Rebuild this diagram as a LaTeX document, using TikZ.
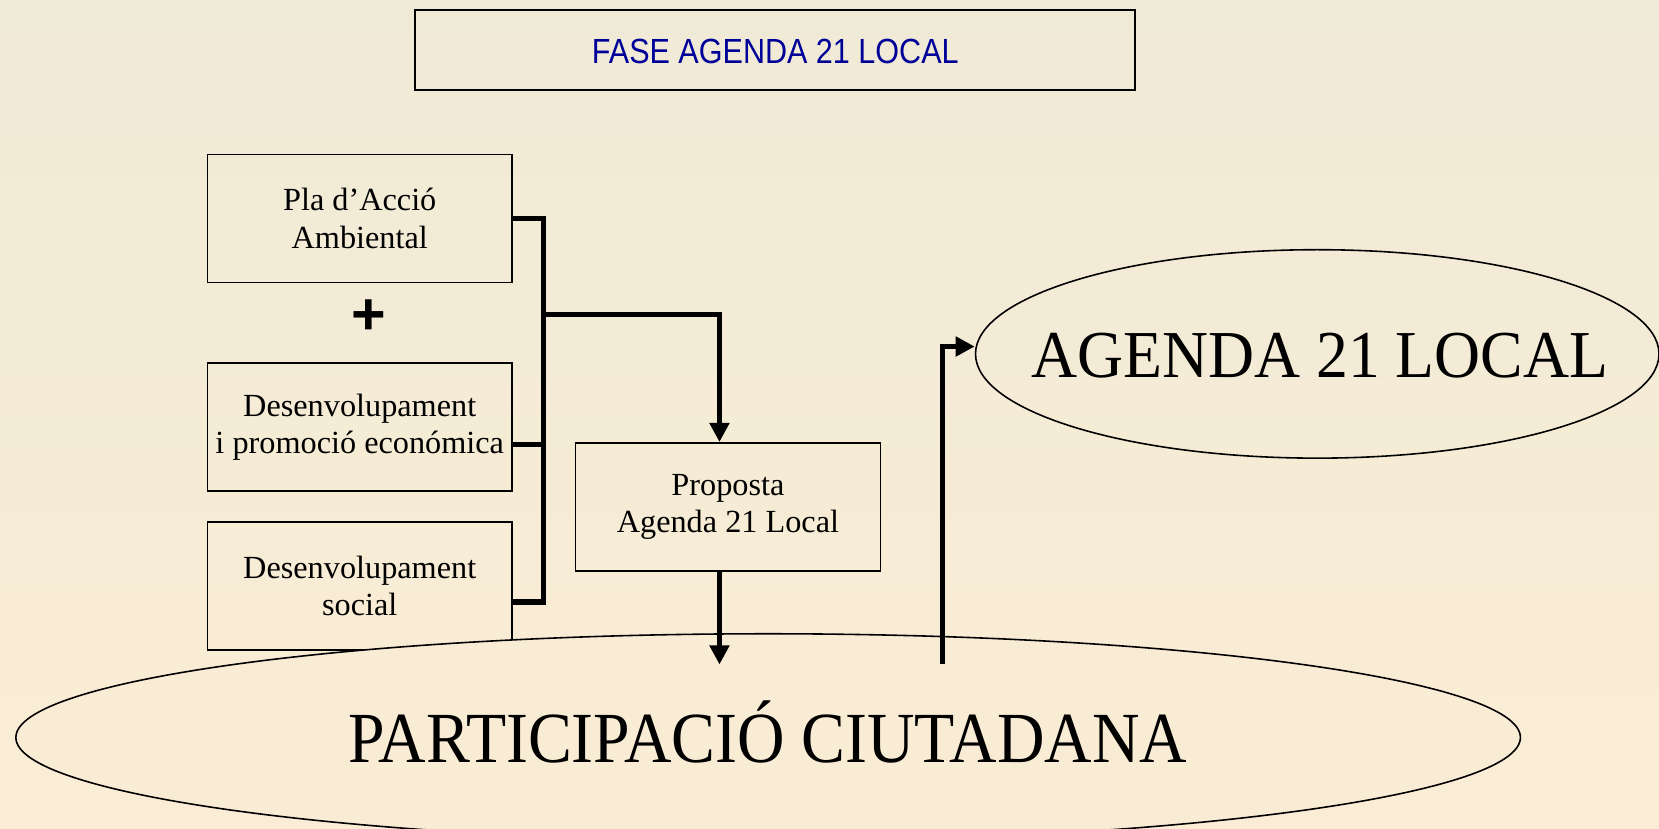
\documentclass[tikz,border=0pt]{standalone}
\usepackage{fontspec}
\setmainfont{Liberation Serif}
\newfontfamily\arialfont{Liberation Sans}
\usetikzlibrary{arrows.meta,shapes.geometric}
\definecolor{bgtop}{RGB}{239,234,214}
\definecolor{bgbot}{RGB}{251,237,213}
\definecolor{bgmid}{RGB}{249,236,213}
\definecolor{titleblue}{RGB}{0,0,153}
\begin{document}
\begin{tikzpicture}[x=0.5pt,y=-0.5pt,
  boxnode/.style={draw=black,line width=0.75pt,minimum width=144pt,minimum height=60.5pt,inner sep=0pt,align=center,font=\fontsize{15.25}{17.6}\selectfont},
  flow/.style={line width=2.4pt,line join=miter},
  flowarrow/.style={flow,-{Triangle[length=9pt,width=9pt]}},
  bigell/.style={ellipse,draw=black,line width=0.75pt,inner sep=0pt},
  bigtext/.style={inner sep=0pt,anchor=base}
  ]
\shade[top color=bgtop,bottom color=bgbot] (0,0) rectangle (1568,782.6);
\useasboundingbox (0,0) rectangle (1568,782.6);

% title
\node[draw=black,line width=1pt,inner sep=0pt,text height=25.25pt,text depth=12.5pt,
      minimum width=340.25pt,text=titleblue,font=\arialfont\fontsize{16.5}{16.5}\selectfont]
      (title) at (732.75,47.25) {\scalebox{0.875}[1]{FASE AGENDA 21 LOCAL}};

% boxes
\node[boxnode] (pla) at (340,206.5) {Pla d’Acció\\Ambiental};
\node[font=\arialfont\bfseries\fontsize{28}{28}\selectfont,inner sep=0pt] (plus) at (348.5,299.5) {+};
\node[boxnode] (des) at (340,403.5) {Desenvolupament\\i promoció económica};
\node[boxnode] (soc) at (340,554) {Desenvolupament\\social};
\node[boxnode] (prop) at (688,479) {Proposta\\Agenda 21 Local};

% ellipses
\node[bigell,fill=bgmid,minimum width=711pt,minimum height=98pt] (part) at (726,697) {};
\node[bigtext,font=\fontsize{34}{34}\selectfont] (parttext) at (725.5,721)
      {\scalebox{0.914}[1]{PARTICIPACIÓ CIUTADANA}};
\node[bigell,minimum width=323pt,minimum height=98.5pt] (agenda) at (1245,334.5) {};
\node[bigtext,font=\fontsize{31.7}{31.7}\selectfont] (agendatext) at (1247.5,357)
      {\scalebox{0.95}[1]{AGENDA 21 LOCAL}};

% connector coordinates
\coordinate (busTop) at (514,206.5);
\coordinate (busMid) at (514,420);
\coordinate (busBot) at (514,569);
\coordinate (busBr) at (514,297);
\coordinate (brTurn) at (680,297);
\coordinate (pdown) at (680,628);
\coordinate (lupB) at (891,628);
\coordinate (lupT) at (891,327.5);

\draw[flow] (pla.east) -- (busTop) -- (busBot) -- (soc.east |- busBot);
\draw[flow] (des.east |- busMid) -- (busMid);
\draw[flowarrow] (busBr) -- (brTurn) -- (brTurn |- prop.north);
\draw[flowarrow] (prop.south -| brTurn) -- (pdown);
\draw[flowarrow] (lupB) -- (lupT) -- (agenda.west |- lupT);
\end{tikzpicture}
\end{document}
